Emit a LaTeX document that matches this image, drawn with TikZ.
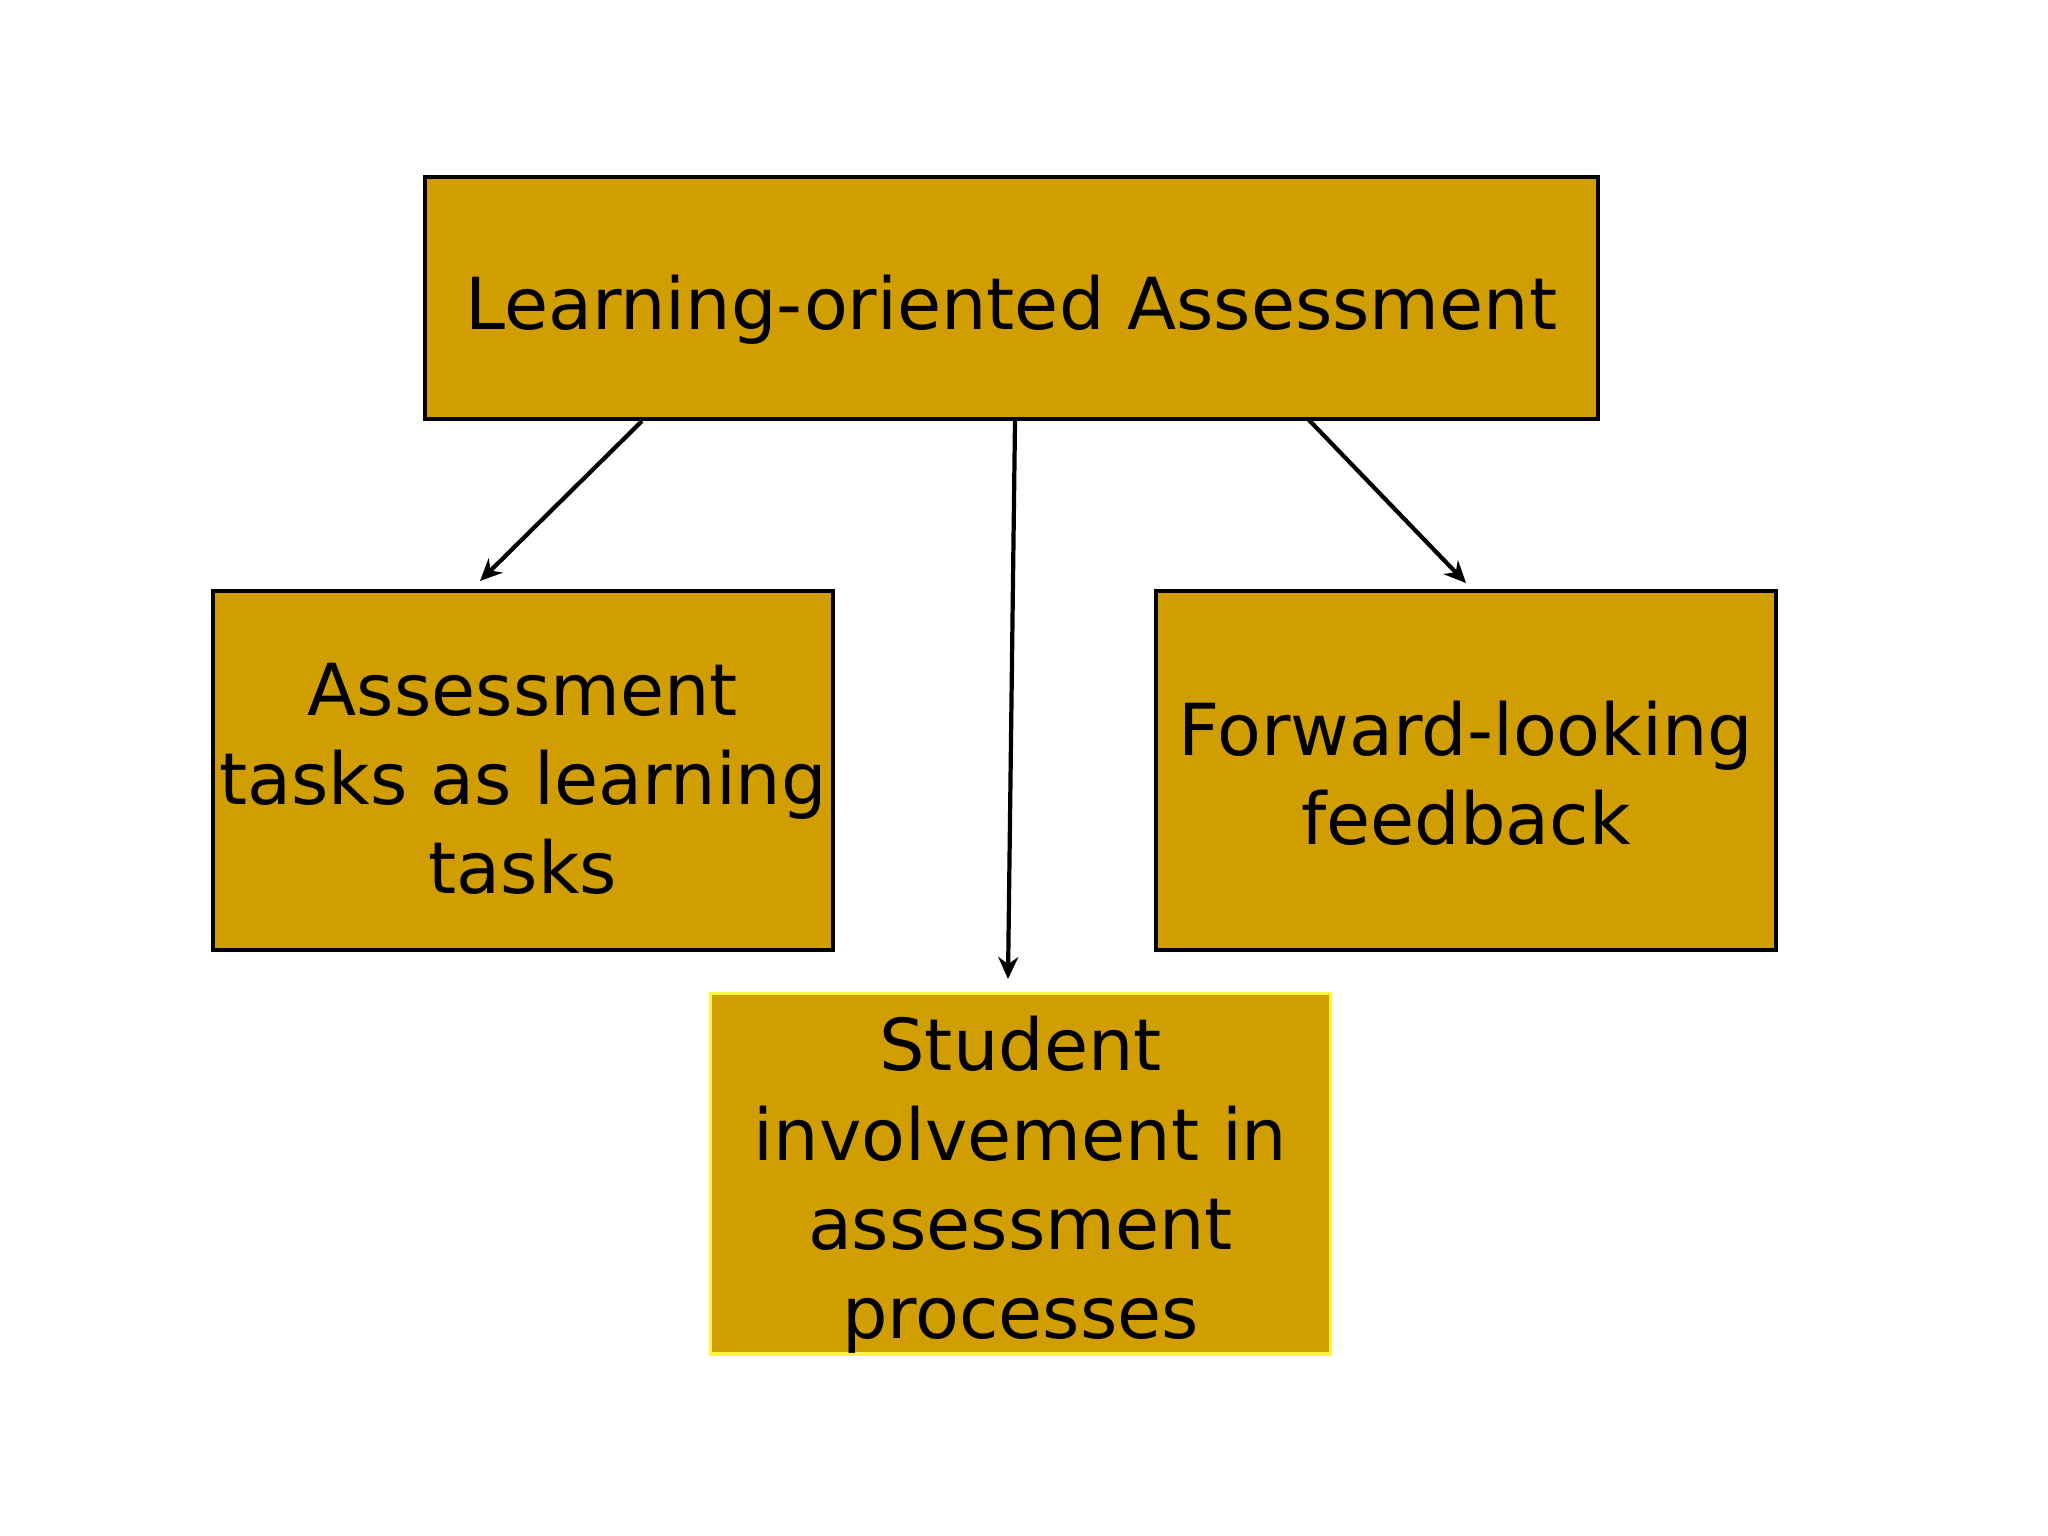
\documentclass[tikz,border=0pt]{standalone}
\usepackage{fontspec}
\setmainfont{DejaVu Sans}
\usetikzlibrary{arrows.meta}
\definecolor{boxgold}{RGB}{208,158,0}
\definecolor{rimyellow}{RGB}{255,245,60}
\newcommand{\lift}[1][55pt]{\rule{0pt}{#1}}

\begin{document}
\begin{tikzpicture}[x=0.25mm,y=-0.25mm,
  topic/.style={draw=black, line width=2.8pt, fill=boxgold, align=center,
    inner sep=0pt, font=\fontsize{51}{63.5}\selectfont},
  link/.style={line width=3pt, -{Stealth[length=5.5mm,width=5mm,inset=1.8mm]}}]
\useasboundingbox[fill=white] (0,0) rectangle (2048,1536);

\node[topic, minimum width=293.25mm, minimum height=60.5mm] (loa) at (1011.5,298) {\lift Learning-oriented Assessment};
\node[topic, minimum width=155mm, minimum height=89.75mm] (tasks) at (523,770.5) {\lift[49pt]Assessment\\tasks as learning\\tasks};
\node[topic, minimum width=155mm, minimum height=89.75mm] (feedback) at (1466,770.5) {\lift[43pt]Forward-looking\\feedback};
\node[topic, draw=rimyellow, minimum width=155mm, minimum height=89.75mm] (student) at (1020.5,1173.5) {\lift Student\\involvement in\\assessment\\processes};

% arrows leave the top box
\coordinate (fromL) at (642,421);
\coordinate (fromM) at (1015,421);
\coordinate (fromR) at (1308,419);
\coordinate (toL) at (480,581);
\coordinate (toM) at (1008,979);
\coordinate (toR) at (1466,583);
\draw[link] (fromL) -- (toL);
\draw[link] (fromM) -- (toM);
\draw[link] (fromR) -- (toR);
\end{tikzpicture}
\end{document}
